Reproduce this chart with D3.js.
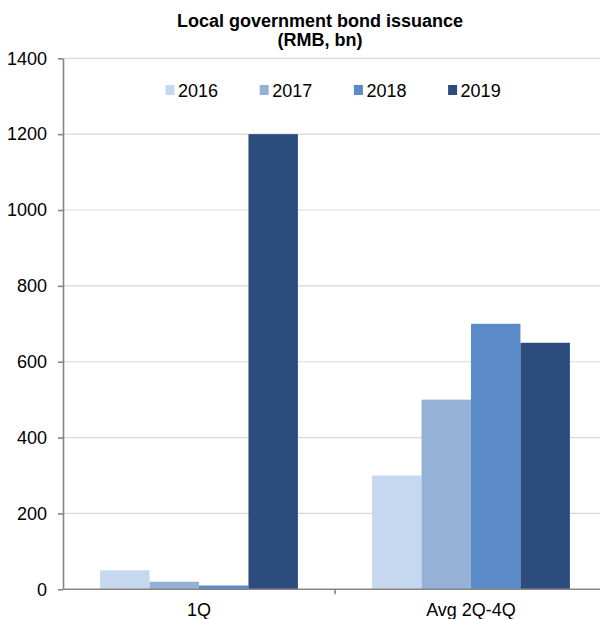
<!DOCTYPE html>
<html><head><meta charset="utf-8">
<script src="https://cdn.jsdelivr.net/npm/d3@7"></script>
<style>body{margin:0;background:#fff;} text{font-family:"Liberation Sans",Arial,sans-serif;fill:#000;}</style>
</head><body>
<svg id="c" width="600" height="619"></svg>
<script>
const categories = ["1Q", "Avg 2Q-4Q"];
const seriesNames = ["2016", "2017", "2018", "2019"];
const values2016 = [50, 300];
const values2017 = [20, 500];
const values2018 = [10, 700];
const values2019 = [1200, 650];
const seriesValues = [values2016, values2017, values2018, values2019];
const colors = ["#c5d8ef", "#95b2d6", "#5a8ac7", "#2b4c7c"];
const yTicks = [0, 200, 400, 600, 800, 1000, 1200, 1400];

const svg = d3.select("#c");
const x = d3.scaleBand().domain(categories).range([63, 607]).padding(0);
const xi = d3.scaleBand().domain(seriesNames).range([0, x.bandwidth()]).paddingInner(0).paddingOuter(0.75);
const y = d3.scaleLinear().domain([0, 1400]).range([589.3, 58.3]);

// gridlines
svg.append("g").selectAll("line").data(yTicks.filter(d => d > 0)).join("line")
  .attr("x1", 63).attr("x2", 600).attr("y1", d => y(d)).attr("y2", d => y(d))
  .attr("stroke", "#d9d9d9").attr("stroke-width", 1.2);

// bars
const rows = [];
categories.forEach((c, i) => seriesNames.forEach((s, j) => rows.push({c, s, v: seriesValues[j][i], col: colors[j]})));
svg.append("g").selectAll("rect").data(rows).join("rect")
  .attr("x", d => x(d.c) + xi(d.s)).attr("width", xi.bandwidth())
  .attr("y", d => y(d.v)).attr("height", d => y(0) - y(d.v))
  .attr("fill", d => d.col);

// y axis
const yAxis = svg.append("g").attr("transform", "translate(63,0)")
  .call(d3.axisLeft(y).tickValues(yTicks).tickFormat(d3.format("d")).tickSize(5).tickPadding(11).tickSizeOuter(0));
yAxis.select(".domain").attr("stroke", "#868686").attr("stroke-width", 1.6);
yAxis.selectAll(".tick line").attr("stroke", "#868686").attr("stroke-width", 1.6);
yAxis.selectAll(".tick text").style("font-size", "18px").attr("font-family", null);

// x axis
const xAxis = svg.append("g").attr("transform", "translate(0," + y(0) + ")")
  .call(d3.axisBottom(x).tickSize(0).tickPadding(14).tickSizeOuter(0));
xAxis.select(".domain").attr("stroke", "#868686").attr("stroke-width", 1.6).attr("d", "M63,0H600");
xAxis.selectAll(".tick text").style("font-size", "18px").attr("font-family", null);
svg.append("g").selectAll("line").data(categories.slice(1)).join("line")
  .attr("x1", d => x(d)).attr("x2", d => x(d)).attr("y1", y(0)).attr("y2", y(0) + 5)
  .attr("stroke", "#868686").attr("stroke-width", 1.6);

// title
svg.append("text").attr("x", 320).attr("y", 27).attr("text-anchor", "middle")
  .style("font-size", "18px").style("font-weight", "bold").text("Local government bond issuance");
svg.append("text").attr("x", 320).attr("y", 46).attr("text-anchor", "middle")
  .style("font-size", "18px").style("font-weight", "bold").text("(RMB, bn)");

// legend
const lg = svg.append("g").selectAll("g").data(seriesNames).join("g")
  .attr("transform", (d, i) => "translate(" + (165.5 + i * 94.2) + ",85)");
lg.append("rect").attr("width", 9).attr("height", 10).attr("fill", (d, i) => colors[i]);
lg.append("text").attr("x", 12.5).attr("y", 11.5).style("font-size", "18px").text(d => d);
</script>
</body></html>
